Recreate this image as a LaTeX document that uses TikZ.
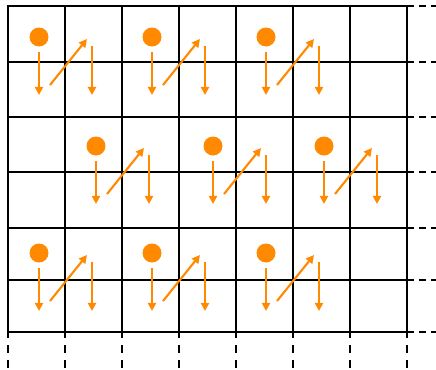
\documentclass[tikz,border=0pt]{standalone}
\usepackage{tikz}
\usetikzlibrary{arrows.meta,calc}
\definecolor{dotorange}{RGB}{255,137,0}
\tikzset{
  gridline/.style={line width=1.1pt, draw=black, line cap=rect},
  gridext/.style={line width=1.1pt, draw=black, dash pattern=on 4pt off 2.8pt},
  gridextv/.style={line width=1.1pt, draw=black, dash pattern=on 4.5pt off 4pt, dash phase=1pt},
  token/.style={circle, fill=dotorange, inner sep=0pt, minimum size=0.38cm},
  move/.style={-{Triangle[width=4.6pt,length=4.6pt]}, line width=1.2pt, draw=dotorange}
}

\begin{document}
\begin{tikzpicture}[x=0.02cm, y=-0.02cm]
\useasboundingbox (0,0) rectangle (436,369);

\foreach \gy in {6,62,117,172,228,280,332} {
  \coordinate (hl-\gy) at (8,\gy);
  \coordinate (hr-\gy) at (407,\gy);
  \coordinate (he-\gy) at (436,\gy);
  \draw[gridline] (hl-\gy) -- (hr-\gy);
  \draw[gridext] (hr-\gy) -- (he-\gy);
}
\foreach \i in {0,...,7} {
  \coordinate (vt-\i) at ({8+57*\i},6);
  \coordinate (vb-\i) at ({8+57*\i},332);
  \coordinate (ve-\i) at ({8+57*\i},369);
  \draw[gridline] (vt-\i) -- (vb-\i);
  \draw[gridextv] (vb-\i) -- (ve-\i);
}

\foreach \gx/\gy/\n in {39/37/a1, 152/37/a2, 266/37/a3,
                        96/146/b1, 213/146/b2, 324/146/b3,
                        39/253/c1, 152/253/c2, 266/253/c3} {
  \node[token] (\n) at (\gx,\gy) {};
  \draw[move] ($(\n)+(0,15)$) -- ($(\n)+(0,58)$);
  \draw[move] ($(\n)+(11,48)$) -- ($(\n)+(48,2)$);
  \draw[move] ($(\n)+(53,9)$) -- ($(\n)+(53,58)$);
}
\end{tikzpicture}
\end{document}
